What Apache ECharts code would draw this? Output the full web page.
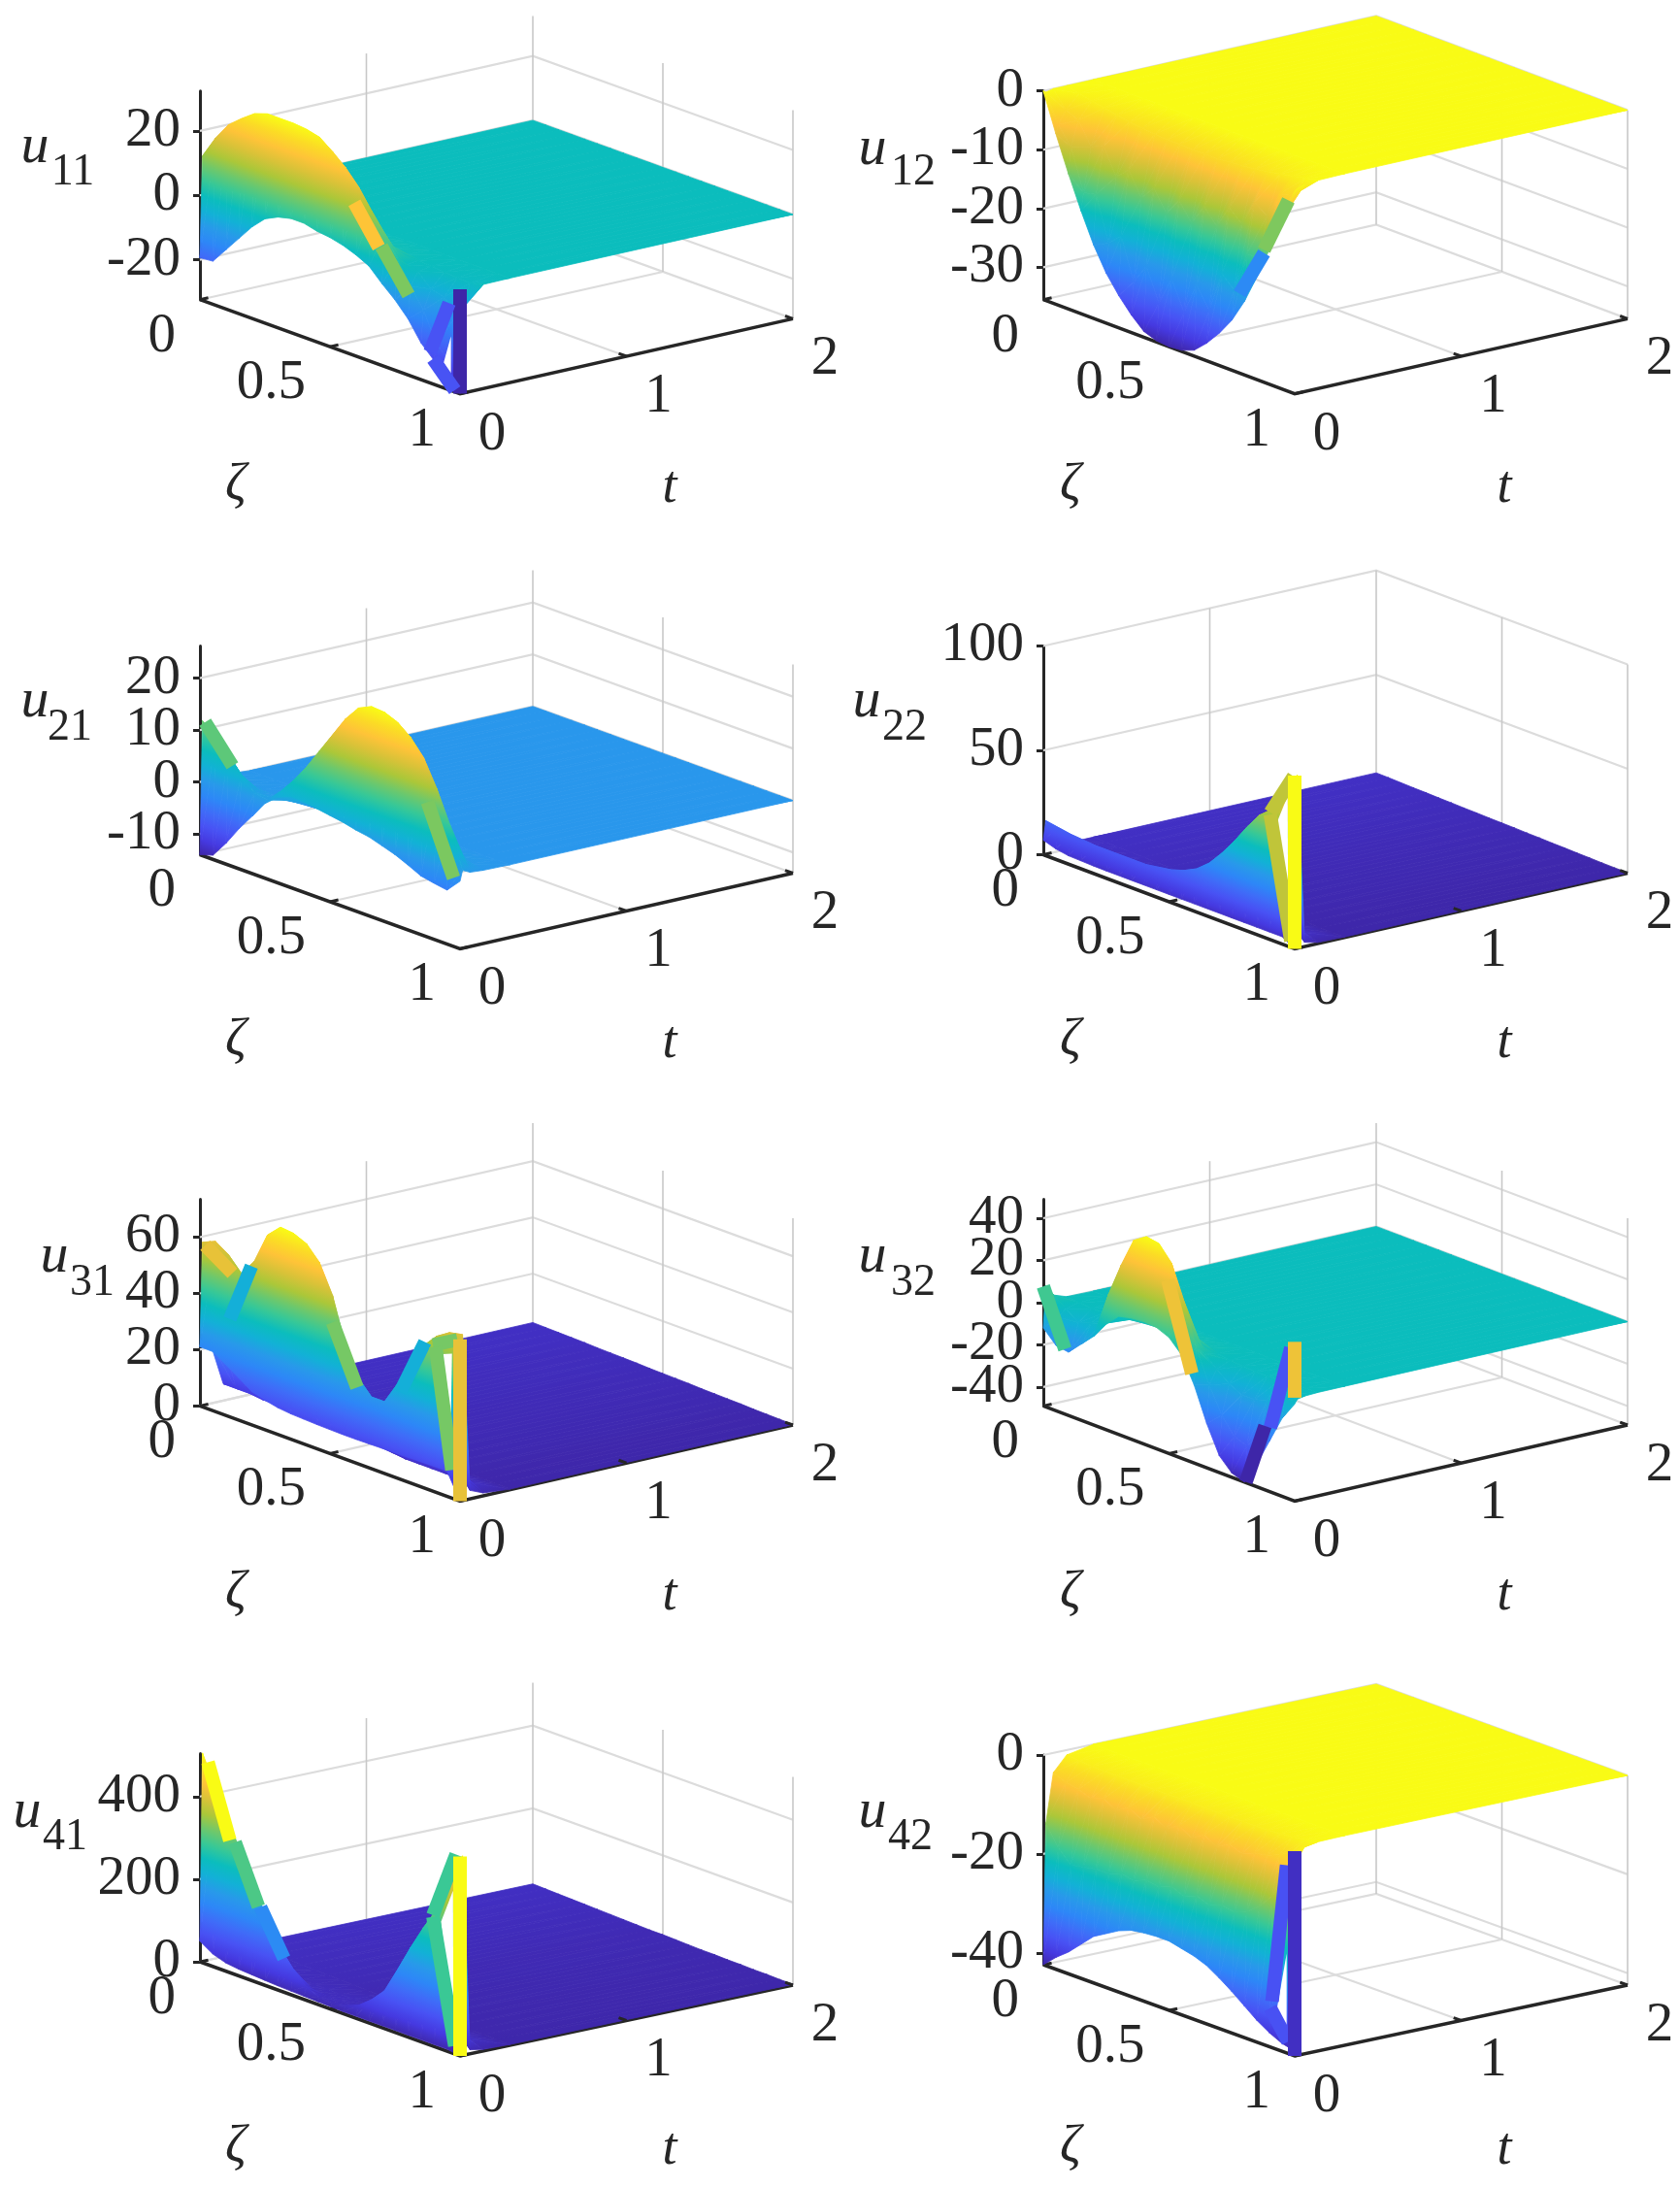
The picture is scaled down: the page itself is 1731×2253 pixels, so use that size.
<!DOCTYPE html>
<html>
<head>
<meta charset="utf-8">
<style>html,body{margin:0;padding:0;background:#fff}#chart{width:1731px;height:2253px}</style>
<script src="https://cdn.jsdelivr.net/npm/echarts@6/dist/echarts.min.js"></script>
</head>
<body>
<div id="chart"></div>
<script>
// grid of the surfaces, the time steps get very small close to t = 0
const zetaValues = [0,.05,.1,.15,.2,.25,.3,.35,.4,.45,.5,.55,.6,.65,.7,.75,.8,.85,.9,.95,1];
const tValues = [0,.015,.06,.14,.3,2];
const zetaTicks = [0,.5,1];
const tTicks = [0,1,2];

// u11
const u11_range = [-32.4,32.4];
const u11_ticks = [-20,0,20];
const u11_t0 = [-19.4,-19,-14,-9,-4,0,2,3,3,2,1.5,.5,-1,-3,-7,-10.6,-15,-21,-25,-29,-32.4];
const u11_t1 = [12,19,24.6,28,31,32.4,32.4,32.4,32,31,28,24.5,20,14,8.5,2,-5,-11,-20,-24,-2];
const u11_t2 = [4,6,9.5,9,12.5,10,13,10,12.5,9,11,7,8.5,4,4,-.5,-1,-5,-6,-10,-.5];
const u11_t3 = [.6,1,1.3,1.5,1.6,1.7,1.7,1.7,1.6,1.6,1.4,1.3,1,.7,.4,.1,-.3,-.6,-1,-1.2,-.1];
const u11_steady = zetaValues.map(() => 0);
const u11_bars = [[1,0,-32.4,1,0,0,-32.4],[.958,0,-5.5,.885,0,-22.8,-23],[.896,0,-24.6,.98,0,-31.9,-23],[.698,0,4.5,.802,0,-7.5,10.4],[.594,0,15,.6875,0,4,23.3]];
const u11_gaps = [[[.9375,0,-24.5],[.965,0,-15.6],[.965,0,-28]]];

// u12
const u12_range = [-35.5,0];
const u12_ticks = [-30,-20,-10,0];
const u12_t0 = [0,-6.5,-12.5,-18,-23,-27,-30,-32.5,-34.5,-35.3,-35.5,-35.3,-34.5,-32.5,-30,-27,-23,-18,-12.5,-6.5,-1];
const u12_t1 = [-.3,-5,-8,-15,-14.5,-22,-20,-27,-23.5,-29,-24,-29,-23.5,-27,-20,-22,-15,-15,-8,-6,-.7];
const u12_t2 = [0,-2.8,-3.8,-7.5,-6.5,-11,-9,-13,-10.5,-14,-11,-14,-10.5,-13,-9,-11,-6.5,-8,-3.5,-3,-.3];
const u12_t3 = [0,-.5,-1,-1.4,-1.8,-2.2,-2.4,-2.6,-2.8,-2.8,-2.9,-2.8,-2.8,-2.6,-2.4,-2.2,-1.8,-1.4,-1,-.5,-.1];
const u12_steady = zetaValues.map(() => 0);
const u12_bars = [[.878,0,-13,.975,0,-3,-12],[.781,0,-22,.878,0,-13.5,-25]];
const u12_gaps = [];

// u21
const u21_range = [-14,26.2];
const u21_ticks = [-10,0,10,20];
const u21_t0 = [-14,-13.2,-10,-6.3,-3,.4,2.5,3.6,3.4,3,2.6,2.2,1.6,1.2,.4,-.4,-1.5,-2.7,-3.2,-3.6,-1];
const u21_t1 = [11.7,9.5,7,4,1.5,1,3.5,6.5,10,14,18,22,25,26.2,26,25,23,20,15,9,1];
const u21_t2 = [3,2.5,2,1.5,1,1,1.5,2,4.5,5,8,8,11,9.5,11.5,8.5,9.5,6,6,2.5,.3];
const u21_t3 = [.5,.4,.3,.2,.2,.2,.3,.4,.6,.8,1,1.3,1.5,1.5,1.5,1.4,1.3,1,.8,.4,.1];
const u21_steady = zetaValues.map(() => 0);
const u21_bars = [[.875,0,12,.975,0,-.8,12.5],[.02,0,11.9,.125,0,5.4,11]];
const u21_gaps = [];

// u22
const u22_range = [0,100];
const u22_ticks = [0,50,100];
const u22_t0 = [7,5,4,3.8,3.6,3.5,3.5,3.5,3.5,3.5,3.5,3.5,3.5,3.5,3.5,3.5,3.5,3.5,3.5,3.5,0];
const u22_t1 = [16,15,14,13.5,13,13,13,13,13,14,15,17,20,25,32,40,49,57,62,70,83];
const u22_t2 = [6,5,4.5,4,3.8,3.6,3.5,3.5,3.6,3.8,4,4.2,4.5,4.8,5,5.5,6,6.5,7,8,2];
const u22_t3 = [3,3,2.8,2.8,2.6,2.6,2.5,2.5,2.5,2.5,2.5,2.5,2.6,2.6,2.7,2.7,2.8,2.8,2.9,3,.5];
const u22_steady = [3,2.9,2.7,2.5,2.4,2.2,2.1,1.9,1.8,1.6,1.5,1.4,1.2,1.1,.9,.8,.6,.5,.3,.2,.2];
const u22_bars = [[.903,0,60.9,.996,0,82.4,62],[.903,0,60,.985,0,3,62],[1,0,0,1,0,83,83]];
const u22_gaps = [[[.931,0,57.9],[.972,0,72],[.974,0,7.6]]];

// u31
const u31_range = [0,73.5];
const u31_ticks = [0,20,40,60];
const u31_t0 = [21,21,18,15,11.8,10.5,9.5,9,8.8,8.6,8.5,8.4,8.4,8.5,8.6,8.7,8.8,8.9,9,9,0];
const u31_t1 = [58,60,57,52,58,69,73.5,73,71,66,56,40,30,25,25,33,42,50,55,58,59];
const u31_t2 = [22,24,23,21,20,29,25,30,24,27,19,18,10,10,7,10,9,11,8,9,3];
const u31_t3 = [6,6,6,5.5,5.5,6,6,6,6,5.5,5,4.5,4,3.5,3,3,3,3,3,3,1];
const u31_steady = [2.6,2.5,2.4,2.3,2.2,2,1.9,1.8,1.7,1.5,1.4,1.3,1.2,1,.9,.8,.7,.5,.4,.3,.2];
const u31_bars = [[.865,0,52,.77,0,31,31],[.51,0,47,.604,0,27,48],[.198,0,56.4,.115,0,34.8,31],[.02,0,57.8,.125,0,51.4,60],[.896,0,52,.99,0,57,48],[.906,0,51.7,.969,0,10,48],[1,0,0,1,0,57.5,60]];
const u31_gaps = [[[.933,0,50],[.969,0,51.4],[.9625,0,13.7]]];

// u32
const u32_range = [-49,49];
const u32_ticks = [-40,-20,0,20,40];
const u32_t0 = [-12,-18,-19,-13,-7,1,7,8.5,9,8.5,6,0,-12,-28,-41,-47,-49,-38,-25,-12,-3];
const u32_t1 = [7.7,-5,-18,-12,-6,15,31,45,49,48,41,25,5,-10,-22,-30,-32,-25,-12,-4,-1];
const u32_t2 = [2.5,-1.8,-6,-4,-2,5,11,16,17,17,14,9,2,-3.5,-8,-11,-11,-9,-4,-1.4,-.3];
const u32_t3 = [.3,-.2,-.8,-.5,-.3,.7,1.5,2,2.2,2.2,1.8,1.2,.3,-.5,-1,-1.4,-1.4,-1.1,-.5,-.2,0];
const u32_steady = zetaValues.map(() => 0);
const u32_bars = [[0,0,7.7,.086,0,-18.2,8],[.495,0,33,.591,0,-7,32],[.985,0,23,.903,0,-18.6,-35],[.882,0,-18.7,.806,0,-48.7,-49],[1,0,26.5,1,0,0,32]];
const u32_gaps = [];

// u41
const u41_range = [0,504];
const u41_ticks = [0,200,400];
const u41_t0 = [50,30,20,16,14,12,10,9,8,7,6,5,5,5,5,5,5,5,5,5,0];
const u41_t1 = [504,430,360,295,220,160,100,60,30,15,12,18,30,55,88,150,215,275,330,400,483];
const u41_t2 = [70,60,50,42,32,25,20,17,15,14,14,14,15,17,20,25,30,35,40,45,10];
const u41_t3 = [20,18,17,16,15,14,13,13,13,12,12,12,12,13,13,14,15,16,16,17,4];
const u41_steady = [17,16,15,14,13,12,11,10,9,8,8,7,6,5,5,4,4,3,3,2,2];
const u41_bars = [[.031,0,490,.115,0,320,504],[.135,0,320,.225,0,185,302],[.233,0,185,.323,0,82,151],[.896,0,317,.985,0,484,290],[.896,0,313,.98,0,20,290],[1,0,0,1,0,483,504]];
const u41_gaps = [[[.927,0,308],[.973,0,394],[.975,0,44]]];

// u42
const u42_range = [-42.4,0];
const u42_ticks = [-40,-20,0];
const u42_t0 = [-42.4,-40,-38,-35.5,-33,-31.5,-30,-29,-28.6,-28.4,-28.4,-29,-29.6,-30.6,-32.2,-34,-36,-38,-39.6,-40.8,-41.4];
const u42_t1 = [-14,-18,-20.5,-20,-19.5,-19.5,-18.5,-19,-18,-18.5,-17.5,-18.5,-17.5,-18.5,-17.5,-18,-17,-15,-12,-8,-2];
const u42_t2 = [-4,-5,-5.5,-6.5,-5.5,-7,-5.5,-7,-5.5,-7,-5.5,-7,-5.5,-7,-5.5,-6.5,-5.5,-5,-4,-2.5,-.5];
const u42_t3 = [-1,-1.2,-1.4,-1.5,-1.5,-1.5,-1.5,-1.5,-1.5,-1.5,-1.5,-1.5,-1.5,-1.5,-1.5,-1.5,-1.4,-1.2,-1,-.6,-.1];
const u42_steady = zetaValues.map(() => 0);
const u42_bars = [[.968,0,-4.4,.91,0,-33,-36.5],[.903,0,-34.5,.974,0,-40,-36.5],[1,0,-42.4,1,0,-1,-41]];
const u42_gaps = [[[.925,0,-35.5],[.968,0,-22.3],[.968,0,-38.2]]];

// parula colour map
const parula = ['#3e26a8','#4539e0','#4852f4','#3f6cf8','#2d87f7','#2899ea','#12b1d6','#0bbdbd','#37c897','#6dc86c','#abc739','#d8c238','#fec338','#fbdc25','#f9fb15'];

const SERIF = '"Liberation Serif",serif';
const INK = '#262626';
const BAR_WIDTH = 14;

// where each box sits on the page: origin corner, front corner, right corner
const panels = [
    {name:'11', range:u11_range, ticks:u11_ticks, rows:[u11_t0,u11_t1,u11_t2,u11_t3], steady:u11_steady, bars:u11_bars, gaps:u11_gaps,
     box:{ox:206,oy:308.7,fx:474,fy:405.6,rx:817,ry:328.4,h:215}, sym:[36,152,75,178]},
    {name:'12', range:u12_range, ticks:u12_ticks, rows:[u12_t0,u12_t1,u12_t2,u12_t3], steady:u12_steady, bars:u12_bars, gaps:u12_gaps,
     box:{ox:1075,oy:308.7,fx:1334,fy:405.6,rx:1677,ry:328.4,h:215}, sym:[899,154,941,178]},
    {name:'21', range:u21_range, ticks:u21_ticks, rows:[u21_t0,u21_t1,u21_t2,u21_t3], steady:u21_steady, bars:u21_bars, gaps:u21_gaps,
     box:{ox:206,oy:880.5,fx:474,fy:977.4,rx:817,ry:899.5,h:215}, sym:[36,723,72,750]},
    {name:'22', range:u22_range, ticks:u22_ticks, rows:[u22_t0,u22_t1,u22_t2,u22_t3], steady:u22_steady, bars:u22_bars, gaps:u22_gaps,
     box:{ox:1075,oy:880.5,fx:1334,fy:977.4,rx:1677,ry:899.5,h:215}, sym:[893,723,932,750]},
    {name:'31', range:u31_range, ticks:u31_ticks, rows:[u31_t0,u31_t1,u31_t2,u31_t3], steady:u31_steady, bars:u31_bars, gaps:u31_gaps,
     box:{ox:206,oy:1448.4,fx:474,fy:1546.4,rx:817,ry:1468,h:213}, sym:[56,1295,95,1322]},
    {name:'32', range:u32_range, ticks:u32_ticks, rows:[u32_t0,u32_t1,u32_t2,u32_t3], steady:u32_steady, bars:u32_bars, gaps:u32_gaps,
     box:{ox:1075,oy:1448.4,fx:1334,fy:1546.4,rx:1677,ry:1468,h:213}, sym:[899,1295,941,1322]},
    {name:'41', range:u41_range, ticks:u41_ticks, rows:[u41_t0,u41_t1,u41_t2,u41_t3], steady:u41_steady, bars:u41_bars, gaps:u41_gaps,
     box:{ox:206,oy:2021,fx:474,fy:2118,rx:817,ry:2045,h:214.5}, sym:[28,1867,67,1893]},
    {name:'42', range:u42_range, ticks:u42_ticks, rows:[u42_t0,u42_t1,u42_t2,u42_t3], steady:u42_steady, bars:u42_bars, gaps:u42_gaps,
     box:{ox:1075,oy:2024,fx:1334,fy:2118,rx:1677,ry:2045,h:216}, sym:[899,1867,938,1893]}
];

function hexToRgb(hex) {
    return [1,3,5].map(i => parseInt(hex.substr(i,2),16));
}
const parulaRgb = parula.map(hexToRgb);

function colourAt(f) {
    const p = Math.min(Math.max(f,0),1) * (parulaRgb.length - 1);
    const i = Math.min(Math.floor(p), parulaRgb.length - 2);
    const c = parulaRgb[i].map((v,k) => Math.round(v + (parulaRgb[i+1][k]-v)*(p-i)));
    return 'rgb(' + c.join(',') + ')';
}

// linear gradient that follows u exactly over one screen triangle
function triangleFill(pts, vals, lo, hi) {
    const f = vals.map(v => Math.min(Math.max((v-lo)/(hi-lo),0),1));
    const a = Math.min(...f), b = Math.max(...f);
    const ax = pts[1][0]-pts[0][0], ay = pts[1][1]-pts[0][1];
    const bx = pts[2][0]-pts[0][0], by = pts[2][1]-pts[0][1];
    const det = ax*by - ay*bx;
    if (b-a < 1e-3 || Math.abs(det) < 1e-3) return colourAt((a+b)/2);
    const d1 = f[1]-f[0], d2 = f[2]-f[0];
    const gx = (d1*by - d2*ay)/det, gy = (ax*d2 - bx*d1)/det;
    const g2 = gx*gx + gy*gy;
    const stops = [{offset:0, color:colourAt(a)}];
    parula.forEach((c,i) => {
        const s = i/(parula.length-1);
        if (s > a && s < b) stops.push({offset:(s-a)/(b-a), color:c});
    });
    stops.push({offset:1, color:colourAt(b)});
    return {
        type:'linear', global:true,
        x: pts[0][0] + gx*(a-f[0])/g2, y: pts[0][1] + gy*(a-f[0])/g2,
        x2: pts[0][0] + gx*(b-f[0])/g2, y2: pts[0][1] + gy*(b-f[0])/g2,
        colorStops: stops
    };
}

function makeProject(panel, api) {
    const b = panel.box;
    const scale = (panel.range[1]-panel.range[0]) / b.h;
    return function (z, t, u) {
        const X = (z*(b.fx-b.ox) + t/2*(b.rx-b.fx)) / (b.rx-b.ox);
        const Y = u - (z*(b.fy-b.oy) + t/2*(b.ry-b.fy)) * scale;
        return api.coord([X, Y]);
    };
}

function line(points, stroke, width) {
    return {type:'polyline', shape:{points:points}, style:{stroke:stroke, lineWidth:width, fill:null}, silent:true};
}

function label(text, x, y, font, align) {
    return {type:'text', silent:true, style:{text:text, x:x, y:y, font:font, fill:INK,
        align:align, textAlign:align, verticalAlign:'middle', textVerticalAlign:'middle'}};
}

// walls, floor, slanted axes and every label that is not on the u axis
function renderFrame(panel, params, api) {
    const P = makeProject(panel, api);
    const lo = panel.range[0], hi = panel.range[1];
    const out = [];
    panel.ticks.forEach(u => out.push(line([P(1,2,u),P(0,2,u),P(0,0,u)], '#dcdcdc', 2.2)));
    out.push(line([P(1,2,lo),P(0,2,lo),P(0,0,lo)], '#dcdcdc', 2.2));
    out.push(line([P(0,1,lo),P(1,1,lo)], '#dcdcdc', 2.2));
    out.push(line([P(.5,0,lo),P(.5,2,lo)], '#dcdcdc', 2.2));
    [[0,1],[0,2],[.5,2],[1,2]].forEach(p => out.push(line([P(p[0],p[1],lo),P(p[0],p[1],hi)], '#c8c8c8', 1.6)));
    out.push(line([P(0,0,lo),P(1,0,lo),P(1,2,lo)], INK, 3.5));
    zetaTicks.forEach(z => {
        const a = P(z,0,lo);
        out.push(line([a,P(z,.05,lo)], INK, 3));
        out.push(label(String(z), a[0]-25, a[1]+38, '57px '+SERIF, 'right'));
    });
    tTicks.forEach(t => {
        const a = P(1,t,lo);
        out.push(label(String(t), a[0]+33, a[1]+42, '57px '+SERIF, 'center'));
    });
    const f = P(1,0,lo);
    out.push(label('ζ', f[0]-231, f[1]+95, 'italic 54px '+SERIF, 'center'));
    out.push(label('t', f[0]+216, f[1]+97, 'italic 54px '+SERIF, 'center'));
    out.push(label('u', panel.sym[0], panel.sym[1], 'italic 58px '+SERIF, 'center'));
    out.push(label(panel.name, panel.sym[2], panel.sym[3], '46px '+SERIF, 'center'));
    return {type:'group', children:out};
}

function renderCell(panel, rows, lo, hi, params, api) {
    const P = makeProject(panel, api);
    const i = api.value(0), j = api.value(1);
    const corners = [[i,j],[i,j+1],[i+1,j+1],[i+1,j]];
    const pts = corners.map(c => P(zetaValues[c[1]], tValues[c[0]], rows[c[0]][c[1]]));
    const vals = corners.map(c => rows[c[0]][c[1]]);
    const tri = function (a,b,c) {
        const fill = triangleFill([pts[a],pts[b],pts[c]], [vals[a],vals[b],vals[c]], lo, hi);
        return {type:'polygon', silent:true, shape:{points:[pts[a],pts[b],pts[c]]},
            style:{fill:fill, stroke:fill, lineWidth:.8}};
    };
    return {type:'group', children:[tri(0,1,2), tri(0,2,3)]};
}

// the flat coloured facets and the holes of the mesh, nearest to the viewer
function renderFacets(panel, lo, hi, params, api) {
    const P = makeProject(panel, api);
    const out = [];
    panel.gaps.forEach(g => out.push({type:'polygon', silent:true,
        shape:{points:g.map(p => P(p[0],p[1],p[2]))}, style:{fill:'#ffffff'}}));
    panel.bars.forEach(b => {
        const s = line([P(b[0],b[1],b[2]),P(b[3],b[4],b[5])], colourAt((b[6]-lo)/(hi-lo)), BAR_WIDTH);
        s.style.lineCap = 'butt';
        out.push(s);
    });
    const bottom = panel.range[0];
    tTicks.slice(1).forEach(t => out.push(line([P(1,t,bottom),P(.97,t,bottom)], INK, 3)));
    return {type:'group', children:out};
}

const grids = [], xAxes = [], yAxes = [], series = [];
panels.forEach((panel, index) => {
    const b = panel.box;
    grids.push({left:b.ox, top:b.oy-b.h, width:b.rx-b.ox, height:b.h, outerBoundsMode:'none', containLabel:false});
    xAxes.push({gridIndex:index, type:'value', min:0, max:1, show:false});
    // blank labels on both axis ends, otherwise echarts drops a real label that comes close to the end one
    const labelValues = Array.from(new Set([panel.range[0]].concat(panel.ticks, [panel.range[1]])));
    yAxes.push({
        gridIndex:index, type:'value', position:'left', min:panel.range[0], max:panel.range[1],
        axisLine:{show:true, onZero:false, lineStyle:{color:INK, width:3}},
        axisTick:{show:true, inside:false, length:7, customValues:panel.ticks, lineStyle:{color:INK, width:3}},
        axisLabel:{show:true, customValues:labelValues, margin:20, color:INK, fontFamily:SERIF, fontSize:57, lineHeight:34,
            formatter:v => panel.ticks.indexOf(v) >= 0 ? String(v) : ''},
        splitLine:{show:false}
    });

    const rows = panel.rows.concat([panel.steady, panel.steady]);
    const all = rows.reduce((acc, r) => acc.concat(r), []);
    const lo = Math.min(...all), hi = Math.max(...all);

    // far cells first: large t, small zeta
    const cells = [];
    for (let i = rows.length-2; i >= 0; i--) {
        for (let j = 0; j < zetaValues.length-1; j++) cells.push([i,j]);
    }
    const common = {type:'custom', coordinateSystem:'cartesian2d', xAxisIndex:index, yAxisIndex:index, silent:true, animation:false, clip:false};
    series.push(Object.assign({}, common, {z:1, data:[[0,0]], renderItem:(p,a) => renderFrame(panel,p,a)}));
    series.push(Object.assign({}, common, {z:3, data:cells, renderItem:(p,a) => renderCell(panel,rows,lo,hi,p,a)}));
    series.push(Object.assign({}, common, {z:4, data:[[0,0]], renderItem:(p,a) => renderFacets(panel,lo,hi,p,a)}));
});

const chart = echarts.init(document.getElementById('chart'), null, {renderer:'canvas'});
chart.setOption({backgroundColor:'#ffffff', animation:false, grid:grids, xAxis:xAxes, yAxis:yAxes, series:series});
</script>
</body>
</html>
